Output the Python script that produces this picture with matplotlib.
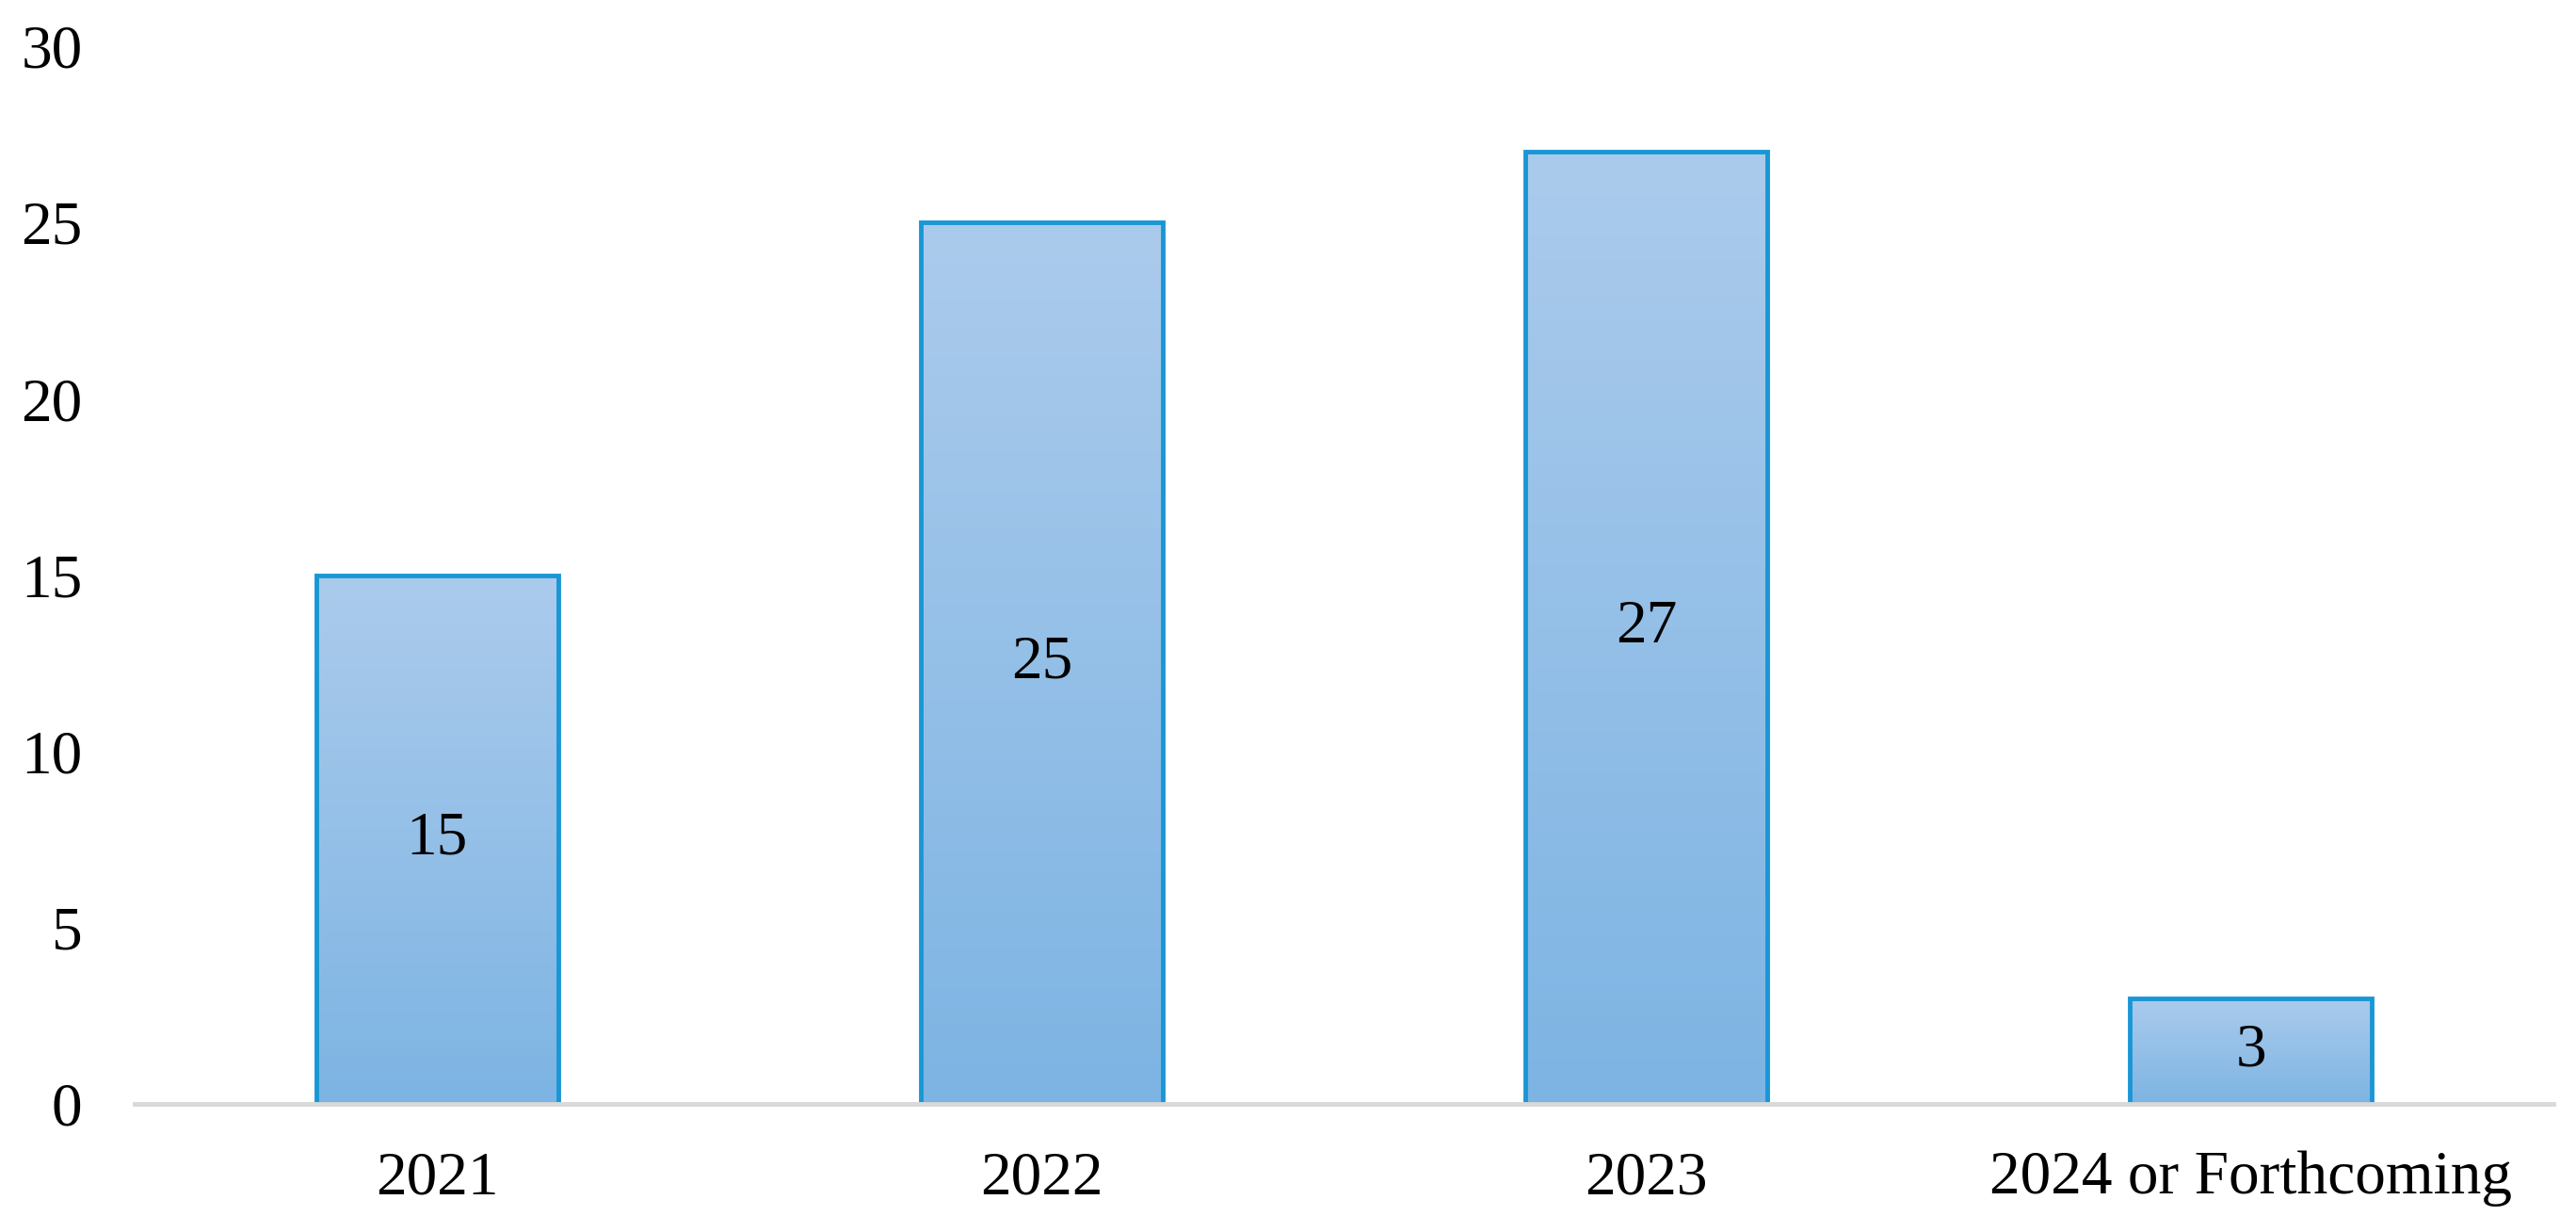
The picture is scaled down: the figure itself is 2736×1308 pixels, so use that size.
import numpy as np
import matplotlib.pyplot as plt
from matplotlib.colors import LinearSegmentedColormap

# データ
categories = ['2021', '2022', '2023', '2024 or Forthcoming']
counts = [15, 25, 27, 3]
y_ticks = [0, 5, 10, 15, 20, 25, 30]

plt.rcParams['font.family'] = ['Liberation Serif', 'DejaVu Serif']

fig = plt.figure(figsize=(27.36, 13.08), dpi=100)
ax = fig.add_axes([0.0523, 0.104, 0.9389, 0.8585])

x = np.arange(len(categories))
bars = ax.bar(x, counts, width=0.4, facecolor='none', edgecolor='#1a96d4',
              linewidth=3.5, zorder=3)

# バーのグラデーション (上: 明るい, 下: 濃い)
cmap = LinearSegmentedColormap.from_list('bar_grad', ['#7db4e3', '#abcbec'])
grad = np.linspace(0, 1, 256).reshape(-1, 1)
for b in bars:
    x0, w, h = b.get_x(), b.get_width(), b.get_height()
    im = ax.imshow(grad, cmap=cmap, aspect='auto', origin='lower',
                   extent=(x0, x0 + w, 0, h), zorder=2)
    im.set_clip_path(b)

# 値ラベル
for xi, v in zip(x, counts):
    ax.text(xi, v / 2, str(v), ha='center', va='center', fontsize=47, zorder=4)

ax.set_xlim(-0.5, len(categories) - 0.5)
ax.set_ylim(0, 30)
ax.set_xticks(x)
ax.set_xticklabels(categories)
ax.set_yticks(y_ticks)
ax.tick_params(axis='both', length=0, labelsize=47)
ax.tick_params(axis='y', pad=40)
ax.tick_params(axis='x', pad=36)

for s in ['top', 'right', 'left']:
    ax.spines[s].set_visible(False)
ax.spines['bottom'].set_color('#d9d9d9')
ax.spines['bottom'].set_linewidth(3.5)
ax.spines['bottom'].set_zorder(5)

fig.savefig('out.png', dpi=100)
